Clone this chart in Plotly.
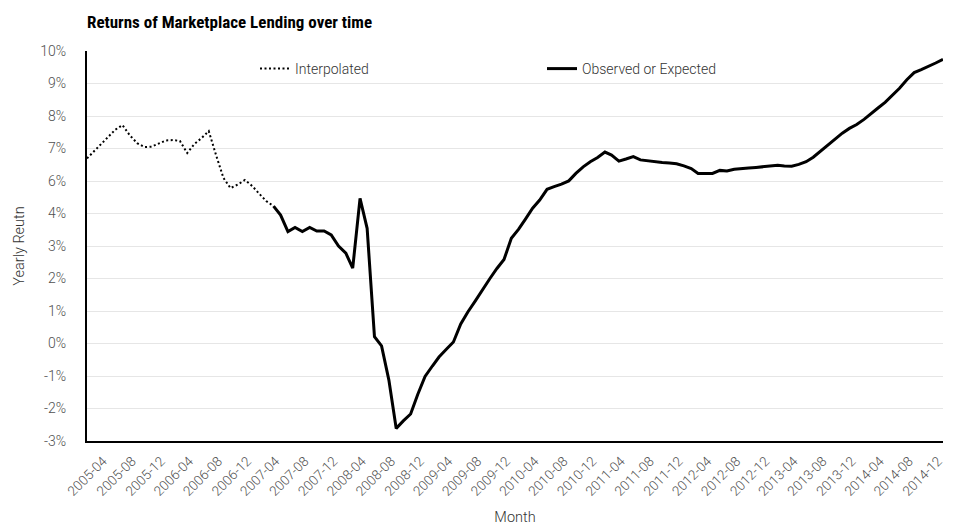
import numpy as np
import pandas as pd
import plotly.graph_objects as go

title = "Returns of Marketplace Lending over time"

# monthly points, Feb 2005 .. Jan 2015
months = pd.date_range("2005-02-01", "2015-01-01", freq="MS").strftime("%Y-%m-%d").tolist()

interpolated = [6.42, 6.65, 6.89, 7.15, 7.38, 7.53, 7.19, 6.93, 6.80, 6.81,
                6.92, 7.02, 7.03, 7.00, 6.60, 6.90, 7.10, 7.33, 6.53, 5.77,
                5.43, 5.55, 5.70, 5.50, 5.23, 5.00, 4.83]

observed = [4.83, 4.53, 3.98, 4.12, 3.98, 4.12, 4.00, 4.00, 3.87, 3.50,
            3.26, 2.76, 5.09, 4.09, 0.48, 0.17, -0.97, -2.58, -2.33, -2.10,
            -1.45, -0.85, -0.50, -0.20, 0.06, 0.30, 0.90, 1.30, 1.66, 2.05,
            2.40, 2.75, 3.05, 3.76, 4.06, 4.39, 4.76, 5.03, 5.39, 5.48,
            5.56, 5.67, 5.92, 6.14, 6.31, 6.45, 6.63, 6.53, 6.33, 6.40,
            6.48, 6.37, 6.34, 6.29, 6.28, 6.27, 6.24, 6.17, 6.08, 5.92,
            5.91, 5.92, 6.02, 6.00, 6.06, 6.09, 6.10, 6.12, 6.14, 6.17,
            6.19, 6.17, 6.16, 6.22, 6.31, 6.46, 6.67, 6.87, 7.08, 7.26,
            7.42, 7.55, 7.72, 7.91, 8.10, 8.29, 8.53, 8.76, 9.04, 9.28,
            9.38, 9.48, 9.60, 9.72]

interp_months = months[:len(interpolated)]
observed_months = months[len(interpolated) - 1:]

x_tick_dates = months[3::4]
x_tick_labels = ["2005-04", "2005-08", "2005-12", "2006-04", "2006-08", "2006-12",
                 "2007-04", "2007-08", "2007-12", "2008-04", "2008-08", "2008-12",
                 "2009-04", "2009-08", "2009-12", "2010-04", "2010-08", "2010-12",
                 "2011-04", "2011-08", "2011-12", "2012-04", "2012-08", "2012-12",
                 "2013-04", "2013-08", "2013-12", "2014-04", "2014-08", "2014-12"]

y_tick_labels = ["-3%", "-2%", "-1%", "0%", "1%", "2%", "3%", "4%",
                 "6%", "7%", "8%", "9%", "10%"]
y_min, y_max = -3, 10
y_tick_vals = np.linspace(y_min, y_max, len(y_tick_labels))

FONT = "Roboto"
GRAY = "#505050"

# the page body has an 8px margin, so the figure is sized to fill the rest
W, H = 958, 524
ML, MR, MT, MB = 79, 23, 43, 91
PW, PH = W - ML - MR, H - MT - MB

fig = go.Figure()
fig.add_trace(go.Scatter(
    x=interp_months, y=interpolated, name="Interpolated", mode="lines",
    line=dict(color="black", width=2, dash="2px,2.5px"),
))
fig.add_trace(go.Scatter(
    x=observed_months, y=observed, name="Observed or Expected", mode="lines",
    line=dict(color="black", width=3),
))

fig.update_layout(
    width=W, height=H, autosize=False,
    margin=dict(l=ML, r=MR, t=MT, b=MB, autoexpand=False),
    paper_bgcolor="white", plot_bgcolor="white",
    font=dict(family=FONT, size=13, color=GRAY),
    title=dict(
        text=title, x=ML / W, xanchor="left", xref="container",
        y=1 - 14 / H, yanchor="middle", yref="container",
        font=dict(family="Liberation Sans Narrow, Roboto Condensed, Roboto", size=17,
                  color="black", weight=700),
    ),
    showlegend=True,
    legend=dict(
        orientation="h", x=(247 - ML) / PW, xanchor="left",
        y=(MT + PH - 45) / PH, yanchor="top",
        bgcolor="rgba(0,0,0,0)", entrywidth=242, entrywidthmode="pixels",
        font=dict(family=FONT, size=14, color="#333333", weight=300),
        itemwidth=30,
    ),
    xaxis=dict(
        type="date", range=[months[0], months[-1]],
        tickmode="array", tickvals=x_tick_dates, ticktext=x_tick_labels,
        tickangle=-45, tickfont=dict(size=13.5, color=GRAY, weight=300),
        showgrid=False, zeroline=False,
        showline=True, linecolor="black", linewidth=2,
        ticks="", ticklabelstandoff=5, ticklabelshift=-5,
        title=dict(text="Month", font=dict(size=14.5, color="#333333", weight=300), standoff=14),
    ),
    yaxis=dict(
        range=[y_min, y_max], tickmode="array",
        tickvals=y_tick_vals, ticktext=y_tick_labels,
        tickfont=dict(size=14, color=GRAY, weight=300),
        showgrid=True, gridcolor="#e6e6e6", gridwidth=1, zeroline=False,
        showline=True, linecolor="black", linewidth=2,
        ticks="", ticklabelstandoff=16,
        title=dict(text="Yearly Reutn", font=dict(size=14.5, color="#333333", weight=300), standoff=12),
    ),
)

fig.write_html("out.html")
